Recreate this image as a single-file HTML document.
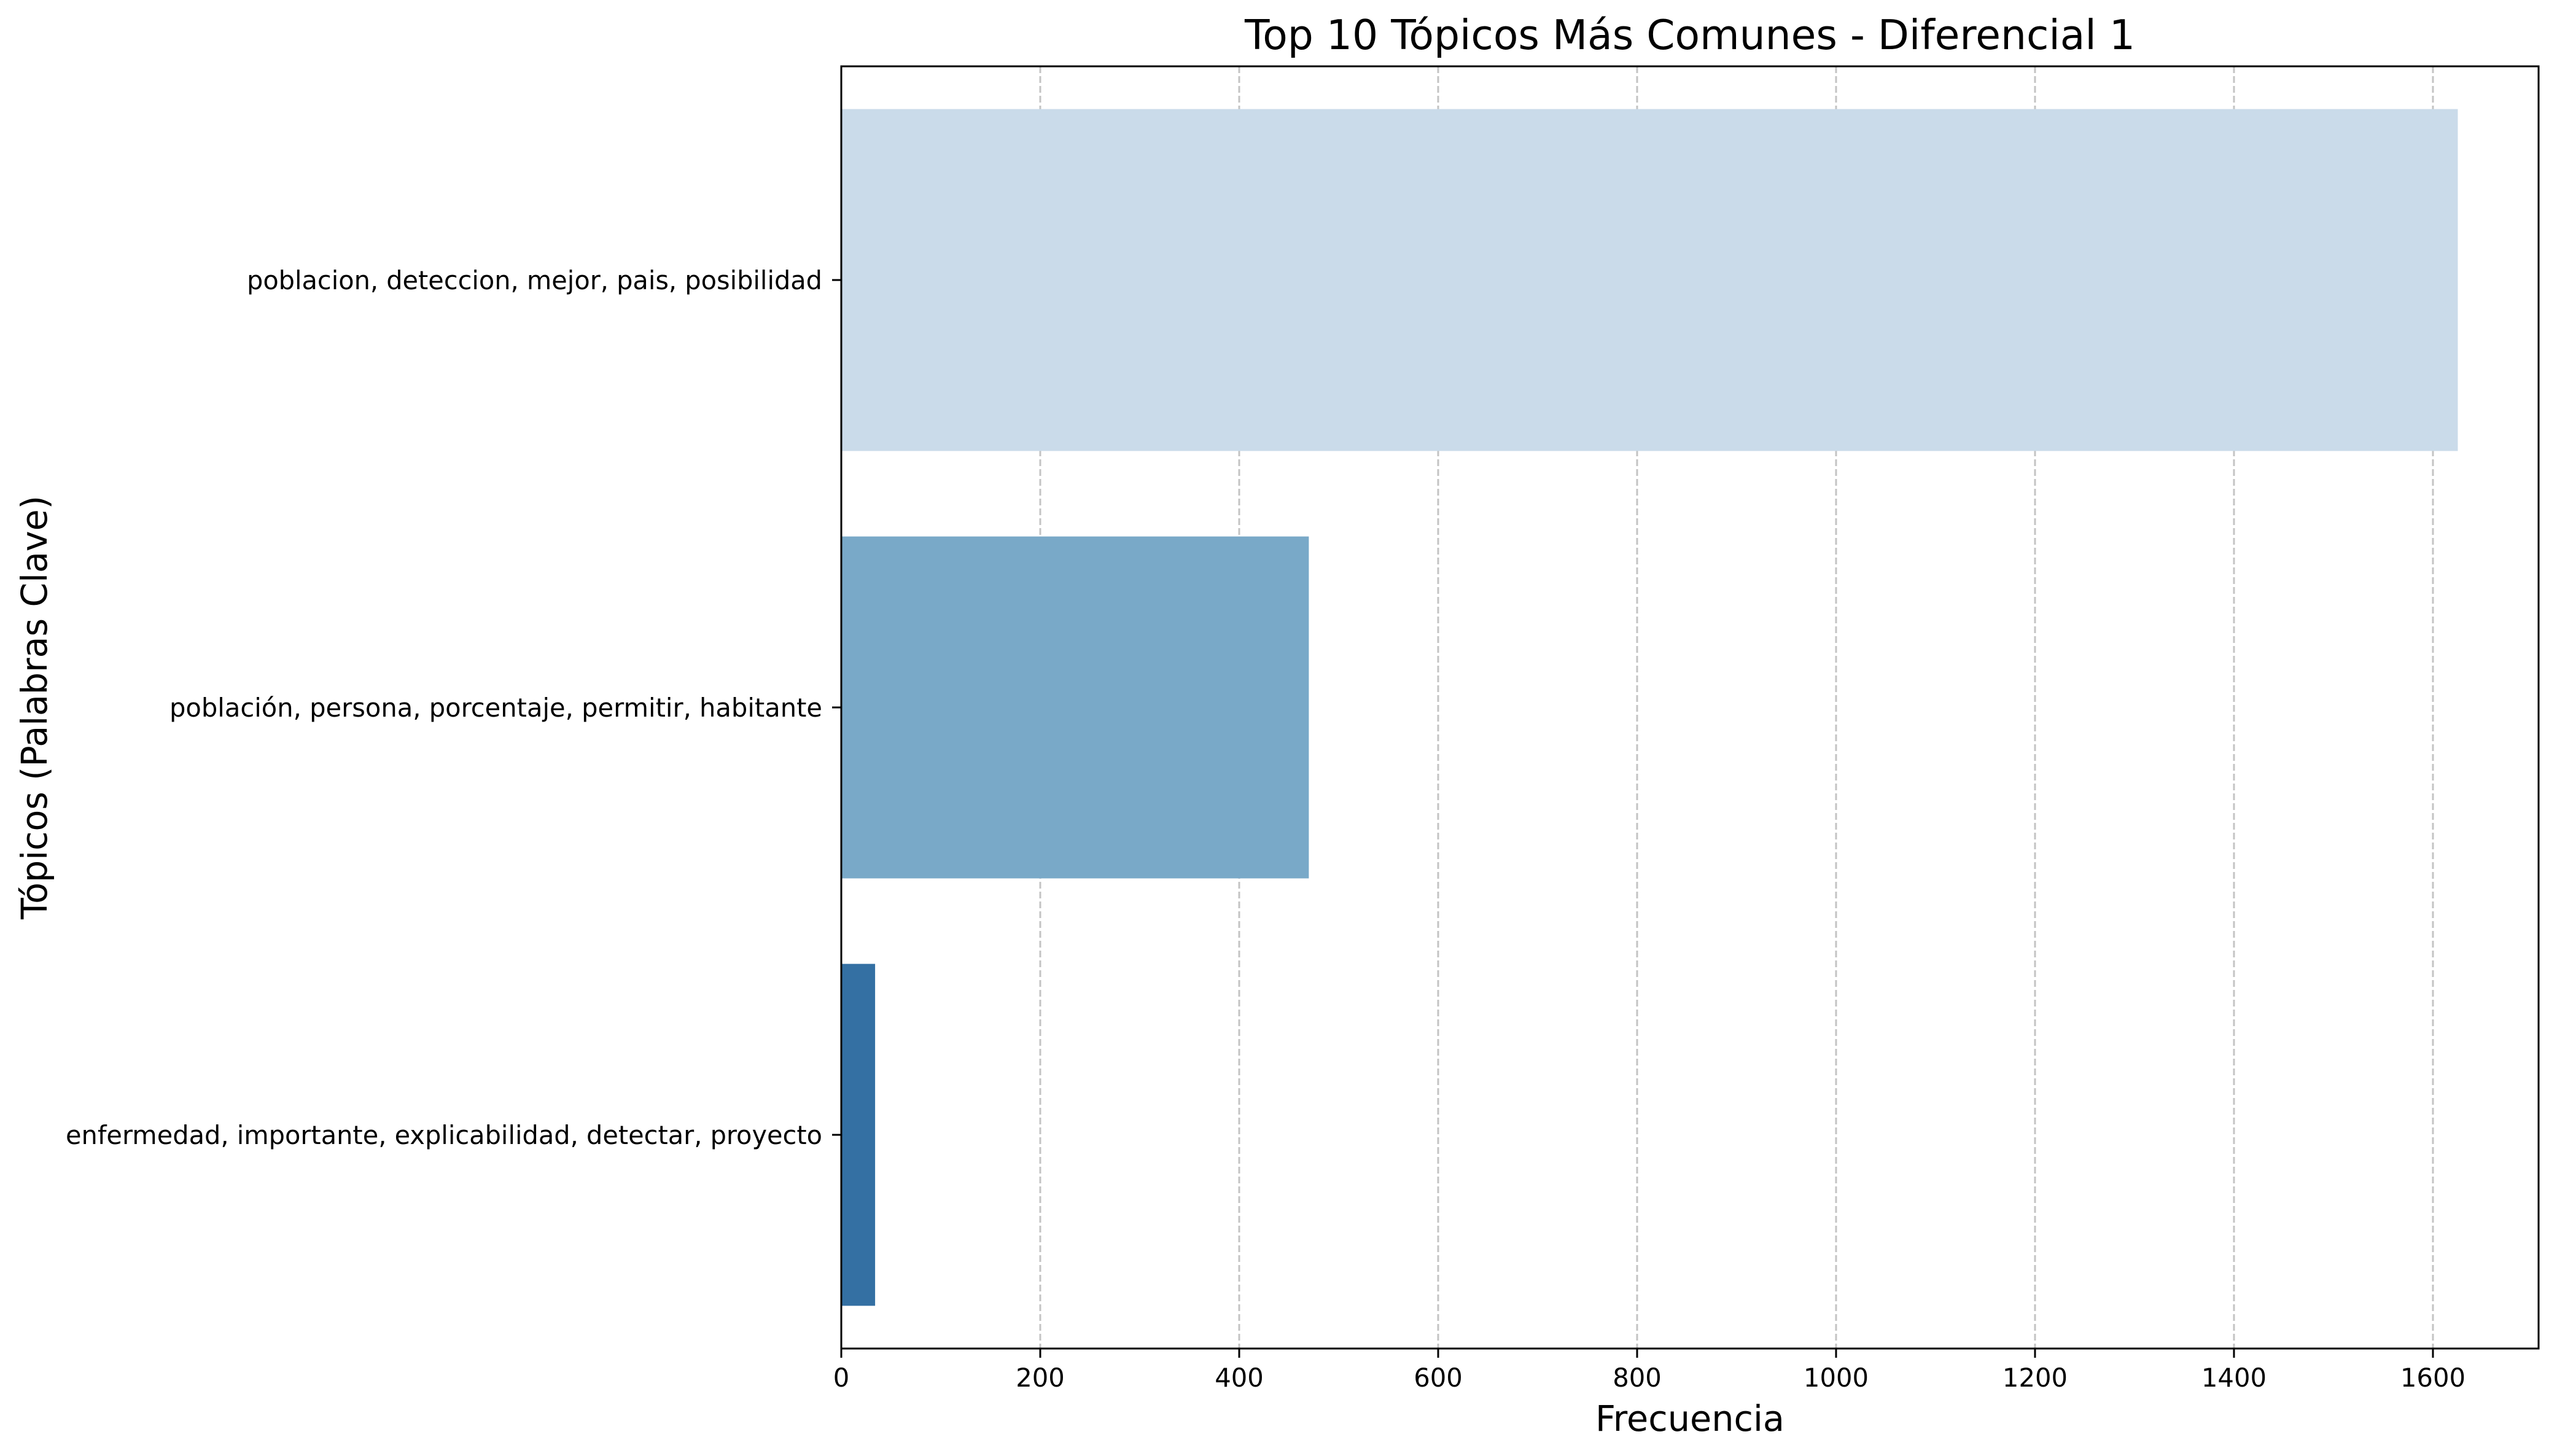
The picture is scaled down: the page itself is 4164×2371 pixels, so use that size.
<!DOCTYPE html>
<html><head><meta charset="utf-8"><style>
html,body{margin:0;padding:0;background:#fff}
svg{display:block}
text{font-family:"DejaVu Sans","Liberation Sans",sans-serif;fill:#000}
</style></head><body>
<svg id="chart" width="4164" height="2371" viewBox="0 0 4164 2371">
<rect x="0" y="0" width="4164" height="2371" fill="#fff"/>
<g id="grid"></g>
<g id="bars"></g>
<g id="axes"></g>
<text x="2752" y="80" font-size="66.7" text-anchor="middle" textLength="1450" lengthAdjust="spacingAndGlyphs">Top 10 Tópicos Más Comunes - Diferencial 1</text>
<text x="2752" y="2330" font-size="58.3" text-anchor="middle" textLength="308" lengthAdjust="spacingAndGlyphs">Frecuencia</text>
<text x="0" y="0" font-size="58.3" text-anchor="middle" textLength="690" lengthAdjust="spacingAndGlyphs" transform="translate(76,1152) rotate(-90)">Tópicos (Palabras Clave)</text>
</svg>
<script>
const categories = ["poblacion, deteccion, mejor, pais, posibilidad","población, persona, porcentaje, permitir, habitante","enfermedad, importante, explicabilidad, detectar, proyecto"];
const values = [1625, 470, 34];
const colors = ["#cadbea","#79a9c8","#3470a3"];
const xTicks = [0,200,400,600,800,1000,1200,1400,1600];
const labelWidths = [937, 1063, 1232];

const NS="http://www.w3.org/2000/svg";
const L=1370,R=4134,T=108,B=2196;
const xMax=1706.2;
const x=v=>L+(v/xMax)*(R-L);
const band=(B-T)/categories.length;
const yc=i=>T+band*(i+0.5);
const bh=band*0.8;
function mk(tag,attrs,parent){const e=document.createElementNS(NS,tag);for(const k in attrs)e.setAttribute(k,attrs[k]);parent.appendChild(e);return e;}
const grid=document.getElementById('grid'),bars=document.getElementById('bars'),axes=document.getElementById('axes');
xTicks.forEach(t=>{
  const g=mk('line',{x1:x(t),x2:x(t),y1:T,y2:B,stroke:'#c4c4c4','stroke-width':3,'stroke-dasharray':'11,5'},grid);
  
  
  const tk=mk('line',{x1:x(t),x2:x(t),y1:B,y2:B+15,stroke:'#000','stroke-width':3},axes);
  
  
  const lb=mk('text',{x:x(t),y:2258,'font-size':41.7,'text-anchor':'middle'},axes);
  lb.textContent=t;
  
  
});
categories.forEach((c,i)=>{
  const r=mk('rect',{x:L,y:yc(i)-bh/2,width:x(values[i])-L,height:bh,fill:colors[i]},bars);
  
  
  const tk=mk('line',{x1:L-15,x2:L,y1:yc(i),y2:yc(i),stroke:'#000','stroke-width':3},axes);
  
  
  const lb=mk('text',{x:1339,y:yc(i)+15,'font-size':41.7,'text-anchor':'end',textLength:labelWidths[i],lengthAdjust:'spacingAndGlyphs'},axes);
  lb.textContent=c;
  
  
});
const frame=mk('rect',{x:L,y:T,width:R-L,height:B-T,fill:'none',stroke:'#000','stroke-width':3},axes);


</script>
</body></html>
